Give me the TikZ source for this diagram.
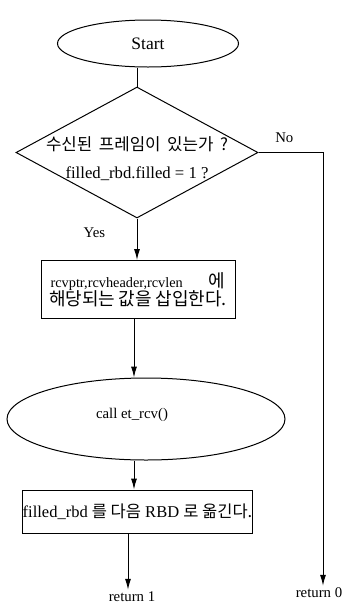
\documentclass[tikz,border=0pt]{standalone}
\usepackage{fontspec}
\setmainfont{Liberation Serif}
\newfontfamily\kr{Noto Sans CJK KR}
\usetikzlibrary{shapes.geometric,arrows.meta}

\begin{document}
\begin{tikzpicture}[
    node distance=100pt,
    font=\fontsize{14.8}{16}\selectfont,
    terminal/.style={ellipse, draw, line width=1pt, inner sep=0pt},
    process/.style={rectangle, draw, line width=1pt, align=center, inner sep=0pt},
    decision/.style={diamond, draw, line width=1pt, inner sep=0pt},
    retlabel/.style={inner sep=2pt},
    arrow/.style={->, >={Latex[length=11pt,width=6pt]}, line width=1pt}
]
\useasboundingbox (0,0) rectangle (345pt,-606pt);

\node[terminal, minimum width=181pt, minimum height=47pt, font=\fontsize{17.5}{18}\selectfont] (start) at (148pt,-43.5pt) {Start};
\node[decision, minimum width=242pt, minimum height=131pt, below of=start, node distance=109pt, xshift=-11pt,
    label={[align=center, yshift=-6pt]center:\makebox[182pt][s]{\kr\fontsize{16.8}{18}\selectfont 수신된 프레임이 있는가 ?}\\[12pt]{\fontsize{16.7}{18}\selectfont filled\_rbd.filled = 1 ?}}] (frame) {};
\node[process, minimum width=194pt, minimum height=58pt, below of=frame, node distance=137pt, xshift=1pt,
    font=\fontsize{14.3}{16}\selectfont] (insert)
    {rcvptr,rcvheader,rcvlen\hspace{26pt}{\kr\fontsize{18}{16}\selectfont 에}\\[-1pt]
     \makebox[178pt][s]{\kr\fontsize{18}{16}\selectfont 해당되는 값을 삽입한다.}};
\node[terminal, minimum width=278pt, minimum height=82pt, below of=insert, node distance=129.5pt, xshift=8pt,
    label={[xshift=-14pt, yshift=4pt]center:call et\_rcv()}] (call) {};
\node[process, minimum width=229pt, minimum height=43pt, below of=call, node distance=92.5pt, xshift=-8.5pt,
    font=\fontsize{16.5}{18}\selectfont] (move)
    {filled\_rbd {\kr 를 다음} RBD {\kr 로 옮긴다.}};
\node[retlabel] (ret1) at (132pt,-597pt) {return 1};
\node[retlabel] (ret0) at (319pt,-593pt) {return 0};
\coordinate (axis) at (134pt,0);

% Arrows
\draw[line width=1pt] (start.south -| frame.north) -- (frame.north);
\draw[arrow] (frame.south) -- (insert.north -| frame.south) node[pos=0.35, left=28pt] {Yes};
\draw[arrow] (insert.south -| axis) -- (call.north -| axis);
\draw[arrow] (call.south -| axis) -- (move.north -| axis);
\draw[arrow] ([xshift=-4pt]ret1.north |- move.south) -- ([xshift=-4pt]ret1.north);
\draw[arrow] (frame.east) -| ([xshift=4pt]ret0.north) node[pos=0.2, above, yshift=6pt] {No};

\end{tikzpicture}
\end{document}
